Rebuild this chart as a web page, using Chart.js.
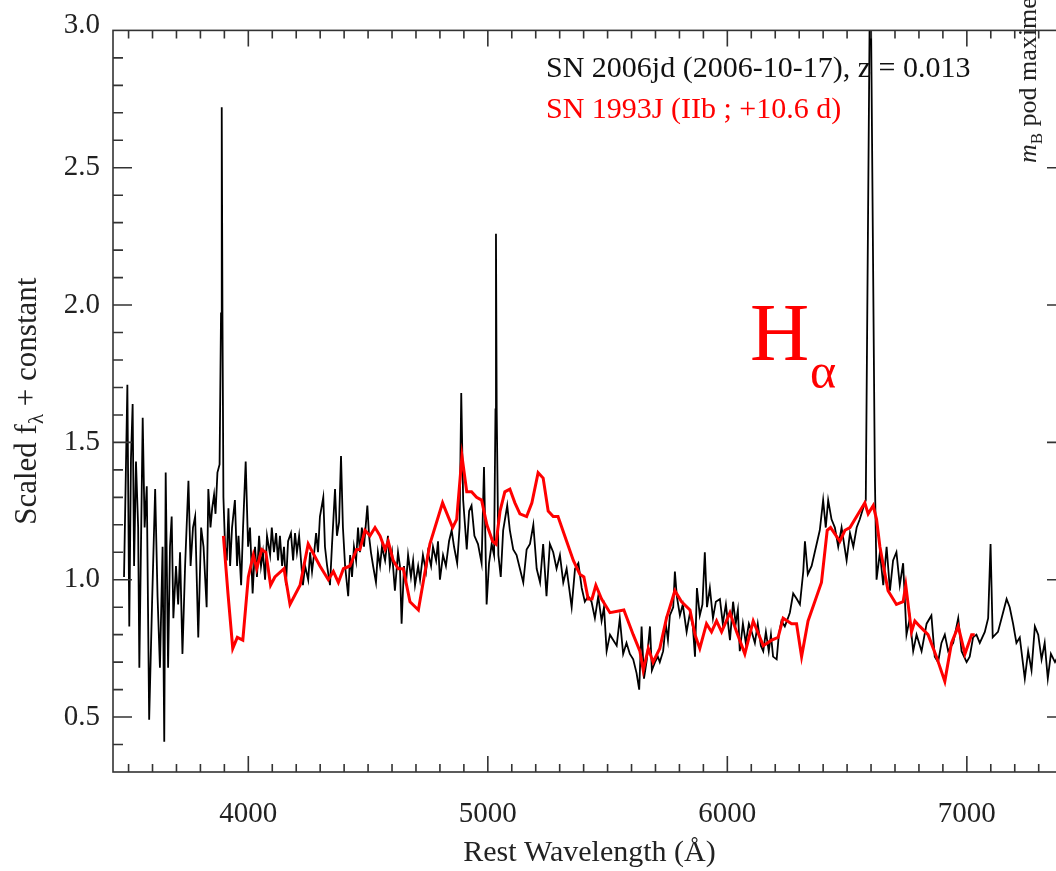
<!DOCTYPE html>
<html>
<head>
<meta charset="utf-8">
<title>SN 2006jd spectrum</title>
<style>
  html, body { margin: 0; padding: 0; overflow: hidden; background: #fff; }
  canvas { display: block; }
</style>
<script src="https://cdn.jsdelivr.net/npm/chart.js@4.4.1/dist/chart.umd.min.js"></script>
</head>
<body>
<canvas id="spec" width="1070" height="871"></canvas>
<script>
// SN 2006jd (black) – rest wavelength (Å) and scaled flux
const jdWave = [
  3481, 3495, 3503, 3510, 3517, 3523, 3531, 3540, 3545, 3559, 3567, 3576, 3586, 3598, 3611, 3621,
  3631, 3642, 3649, 3655, 3665, 3673, 3680, 3687, 3698, 3707, 3715, 3725, 3736, 3750, 3759, 3769,
  3778, 3791, 3803, 3813, 3826, 3833, 3842, 3849, 3857, 3863, 3871, 3880, 3886, 3889, 3892, 3896,
  3903, 3910, 3917, 3924, 3932, 3944, 3953, 3959, 3970, 3978, 3989, 3999, 4007, 4018, 4028, 4036,
  4045, 4053, 4061, 4070, 4078, 4091, 4098, 4107, 4116, 4124, 4132, 4141, 4149, 4157, 4166, 4178,
  4187, 4195, 4203, 4212, 4220, 4228, 4237, 4250, 4258, 4266, 4274, 4283, 4291, 4299, 4313, 4320,
  4329, 4341, 4349, 4362, 4370, 4379, 4387, 4395, 4404, 4417, 4425, 4433, 4441, 4450, 4458, 4466,
  4474, 4483, 4497, 4504, 4512, 4521, 4533, 4541, 4550, 4558, 4571, 4583, 4591, 4600, 4612, 4625,
  4633, 4640, 4650, 4658, 4667, 4679, 4688, 4696, 4709, 4717, 4729, 4742, 4750, 4763, 4771, 4784,
  4792, 4800, 4813, 4825, 4838, 4849, 4859, 4872, 4882, 4889, 4897, 4912, 4922, 4932, 4944, 4959,
  4974, 4984, 4995, 5005, 5016, 5026, 5032, 5034, 5037, 5044, 5054, 5064, 5081, 5092, 5106, 5120,
  5134, 5148, 5162, 5176, 5190, 5204, 5218, 5231, 5245, 5259, 5273, 5287, 5301, 5315, 5329, 5350,
  5364, 5378, 5392, 5405, 5419, 5433, 5447, 5461, 5475, 5485, 5496, 5510, 5524, 5538, 5551, 5565,
  5579, 5593, 5607, 5621, 5632, 5642, 5652, 5664, 5677, 5685, 5698, 5710, 5718, 5732, 5743, 5752,
  5760, 5774, 5781, 5789, 5802, 5814, 5830, 5844, 5856, 5865, 5873, 5885, 5896, 5906, 5915, 5927,
  5940, 5952, 5969, 5981, 5994, 6011, 6024, 6035, 6044, 6052, 6065, 6077, 6090, 6102, 6115, 6127,
  6140, 6150, 6161, 6173, 6182, 6191, 6206, 6215, 6226, 6240, 6253, 6261, 6275, 6290, 6303, 6317,
  6324, 6336, 6352, 6365, 6386, 6400, 6411, 6421, 6435, 6449, 6463, 6477, 6498, 6512, 6526, 6540,
  6553, 6567, 6578, 6597, 6616, 6623, 6637, 6651, 6665, 6679, 6692, 6706, 6720, 6734, 6748, 6762,
  6776, 6790, 6811, 6832, 6852, 6866, 6880, 6894, 6908, 6922, 6943, 6964, 6978, 6999, 7012, 7026,
  7040, 7054, 7075, 7089, 7099, 7108, 7130, 7151, 7166, 7179, 7193, 7207, 7221, 7242, 7256, 7270,
  7284, 7298, 7312, 7325, 7338, 7351, 7368, 7380, 7395, 7414
];
const jdFlux = [
  1.01, 1.71, 0.83, 1.44, 1.64, 1.05, 1.43, 1.19, 0.68, 1.59, 1.19, 1.34, 0.49, 0.91, 1.33, 0.94,
  0.68, 1.12, 0.41, 1.39, 0.68, 1.12, 1.23, 0.86, 1.05, 0.91, 1.10, 0.73, 1.05, 1.36, 1.05, 1.19,
  1.23, 0.79, 1.19, 1.12, 0.90, 1.33, 1.19, 1.26, 1.31, 1.24, 1.39, 1.42, 1.97, 2.72, 1.97, 1.30,
  1.12, 1.07, 1.26, 1.05, 1.19, 1.29, 1.05, 1.16, 0.98, 1.19, 1.43, 1.12, 1.19, 0.95, 1.12, 1.01,
  1.16, 1.05, 1.10, 1.00, 1.16, 1.09, 1.19, 1.10, 1.17, 1.07, 1.16, 1.05, 1.12, 0.98, 1.14, 1.17,
  1.07, 1.17, 1.10, 1.16, 1.07, 0.98, 1.05, 1.00, 1.10, 1.03, 1.09, 1.17, 1.10, 1.23, 1.30, 1.12,
  1.05, 0.98, 1.12, 1.33, 1.16, 1.21, 1.45, 1.19, 1.05, 0.94, 1.09, 1.01, 1.12, 1.07, 1.19, 1.10,
  1.19, 1.12, 1.27, 1.16, 1.10, 1.05, 0.99, 1.10, 1.05, 1.12, 1.07, 1.16, 1.05, 1.10, 0.96, 1.10,
  1.05, 0.84, 1.05, 0.98, 1.09, 1.01, 1.07, 0.98, 1.05, 1.00, 1.09, 1.03, 1.10, 1.05, 1.12, 1.07,
  1.14, 1.00, 1.09, 1.05, 1.14, 1.18, 1.12, 1.06, 1.19, 1.68, 1.29, 1.11, 1.25, 1.27, 1.16, 1.13,
  1.06, 1.41, 0.91, 1.06, 1.13, 1.09, 1.62, 2.26, 1.62, 1.09, 1.01, 1.18, 1.27, 1.18, 1.11, 1.09,
  1.04, 0.99, 1.11, 1.13, 1.20, 1.04, 0.99, 1.13, 0.94, 1.13, 1.10, 1.04, 1.09, 0.99, 1.04, 0.90,
  1.04, 1.06, 0.97, 0.92, 0.94, 0.92, 0.86, 0.94, 0.85, 0.90, 0.74, 0.80, 0.78, 0.76, 0.86, 0.73,
  0.77, 0.73, 0.71, 0.66, 0.60, 0.83, 0.64, 0.71, 0.83, 0.67, 0.70, 0.72, 0.70, 0.74, 0.84, 0.78,
  0.87, 0.90, 1.03, 0.94, 0.87, 0.91, 0.81, 0.88, 0.83, 0.72, 0.97, 0.87, 0.91, 1.10, 0.90, 0.97,
  0.86, 0.92, 0.93, 0.84, 0.91, 0.78, 0.92, 0.84, 0.89, 0.74, 0.84, 0.77, 0.84, 0.81, 0.77, 0.84,
  0.76, 0.74, 0.81, 0.74, 0.80, 0.72, 0.71, 0.80, 0.85, 0.83, 0.86, 0.88, 0.95, 0.93, 0.91, 1.03,
  1.14, 1.02, 1.05, 1.10, 1.18, 1.29, 1.19, 1.29, 1.22, 1.19, 1.12, 1.19, 1.07, 1.17, 1.12, 1.19,
  1.22, 1.26, 1.29, 3.35, 1.37, 1.00, 1.10, 0.98, 1.12, 0.96, 1.07, 1.10, 0.98, 1.06, 0.80, 0.86,
  0.74, 0.80, 0.74, 0.84, 0.87, 0.72, 0.70, 0.77, 0.80, 0.74, 0.77, 0.86, 0.74, 0.70, 0.72, 0.79,
  0.80, 0.77, 0.81, 0.86, 1.13, 0.79, 0.81, 0.88, 0.93, 0.90, 0.84, 0.77, 0.79, 0.64, 0.74, 0.67,
  0.83, 0.80, 0.71, 0.77, 0.64, 0.73, 0.70, 0.72, 0.68, 0.70
];

// SN 1993J template (red)
const sn93Wave = [
  3896, 3915, 3935, 3954, 3977, 4000, 4021, 4035, 4056, 4073, 4093, 4111, 4149, 4174, 4216, 4250,
  4299, 4334, 4355, 4376, 4397, 4424, 4452, 4466, 4487, 4508, 4529, 4550, 4571, 4584, 4605, 4626,
  4647, 4675, 4710, 4738, 4758, 4811, 4853, 4870, 4892, 4912, 4932, 4953, 4974, 4996, 5020, 5034,
  5051, 5071, 5092, 5113, 5134, 5162, 5184, 5210, 5231, 5252, 5273, 5293, 5329, 5357, 5384, 5401,
  5419, 5435, 5451, 5475, 5510, 5568, 5607, 5635, 5649, 5670, 5690, 5718, 5746, 5781, 5809, 5844,
  5865, 5885, 5913, 5934, 5955, 5976, 6011, 6039, 6073, 6108, 6150, 6185, 6212, 6233, 6268, 6289,
  6310, 6337, 6365, 6393, 6417, 6431, 6470, 6491, 6512, 6574, 6588, 6609, 6623, 6637, 6671, 6706,
  6734, 6745, 6769, 6783, 6804, 6838, 6873, 6908, 6936, 6964, 6992, 7020, 7033
];
const sn93Flux = [
  1.16, 0.95, 0.75, 0.79, 0.78, 1.01, 1.09, 1.04, 1.11, 1.10, 0.98, 1.01, 1.04, 0.91, 0.98, 1.13,
  1.05, 1.00, 1.03, 0.99, 1.04, 1.05, 1.11, 1.11, 1.18, 1.16, 1.19, 1.16, 1.11, 1.14, 1.07, 1.04,
  1.04, 0.92, 0.89, 1.03, 1.13, 1.28, 1.19, 1.22, 1.45, 1.32, 1.32, 1.30, 1.29, 1.20, 1.14, 1.13,
  1.25, 1.32, 1.33, 1.28, 1.24, 1.23, 1.28, 1.39, 1.37, 1.25, 1.23, 1.23, 1.14, 1.07, 1.02, 1.01,
  0.93, 0.93, 0.98, 0.93, 0.88, 0.89, 0.80, 0.74, 0.67, 0.75, 0.70, 0.75, 0.86, 0.96, 0.92, 0.89,
  0.80, 0.75, 0.84, 0.81, 0.85, 0.81, 0.88, 0.81, 0.73, 0.85, 0.76, 0.78, 0.79, 0.86, 0.84, 0.84,
  0.72, 0.85, 0.92, 0.99, 1.18, 1.19, 1.14, 1.18, 1.19, 1.28, 1.24, 1.27, 1.22, 1.12, 0.96, 0.91,
  0.92, 0.98, 0.81, 0.85, 0.83, 0.80, 0.72, 0.63, 0.77, 0.83, 0.73, 0.80, 0.80
];

// axes
const xTickValues = [4000, 5000, 6000, 7000];
const yTickValues = [0.5, 1.0, 1.5, 2.0, 2.5, 3.0];
const xRange = [3435, 7414];
const yRange = [0.3, 3.0];

const SERIF = "'Liberation Serif', 'DejaVu Serif', serif";
const INK = '#222';

// frame with inward ticks on all four sides (IDL style)
const framePlugin = {
  id: 'frame',
  afterDraw(chart) {
    const { ctx, chartArea: a, scales: { x, y } } = chart;
    ctx.save();
    ctx.strokeStyle = '#333';
    ctx.lineWidth = 1.6;
    ctx.strokeRect(a.left, a.top, a.right - a.left, a.bottom - a.top);
    ctx.beginPath();
    for (let w = 3500; w < xRange[1]; w += 100) {
      const px = x.getPixelForValue(w);
      const len = w % 1000 === 0 ? 16 : 8;
      ctx.moveTo(px, a.bottom); ctx.lineTo(px, a.bottom - len);
      ctx.moveTo(px, a.top); ctx.lineTo(px, a.top + len);
    }
    for (let i = 4; i < 30; i++) {
      const py = y.getPixelForValue(i / 10);
      const len = i % 5 === 0 ? 19 : 10;
      ctx.moveTo(a.left, py); ctx.lineTo(a.left + len, py);
      ctx.moveTo(a.right, py); ctx.lineTo(a.right - len, py);
    }
    ctx.stroke();
    ctx.restore();
  }
};

// annotations: legend texts, H-alpha, y title, top tick label, neighbour caption
const textPlugin = {
  id: 'texts',
  afterDraw(chart) {
    const { ctx, chartArea: a } = chart;
    ctx.save();
    ctx.textBaseline = 'alphabetic';

    // legend
    ctx.font = `30px ${SERIF}`;
    ctx.fillStyle = '#111';
    ctx.textAlign = 'left';
    ctx.fillText('SN 2006jd (2006-10-17), z = 0.013', 546, 77);
    ctx.fillStyle = '#ff0000';
    ctx.fillText('SN 1993J (IIb ; +10.6 d)', 546, 118);

    // H alpha
    ctx.font = `82px ${SERIF}`;
    ctx.fillText('H', 750, 360);
    ctx.font = `50px ${SERIF}`;
    ctx.fillText('α', 810, 388);

    // top y label, nudged down like the original
    ctx.fillStyle = INK;
    ctx.font = `29px ${SERIF}`;
    ctx.textAlign = 'right';
    ctx.fillText('3.0', 100, 33);

    // y title with subscript lambda
    ctx.save();
    ctx.translate(36, (a.top + a.bottom) / 2);
    ctx.rotate(-Math.PI / 2);
    ctx.textAlign = 'left';
    const big = `31px ${SERIF}`, small = `21px ${SERIF}`;
    ctx.font = big;
    const w1 = ctx.measureText('Scaled f').width;
    const w3 = ctx.measureText(' + constant').width;
    ctx.font = small;
    const w2 = ctx.measureText('λ').width;
    let cx = -(w1 + w2 + w3) / 2;
    ctx.font = big; ctx.fillText('Scaled f', cx, 0); cx += w1;
    ctx.font = small; ctx.fillText('λ', cx, 7); cx += w2;
    ctx.font = big; ctx.fillText(' + constant', cx, 0);
    ctx.restore();

    // caption of the neighbouring panel, cut by the page edge
    ctx.save();
    ctx.translate(1036, 163);
    ctx.rotate(-Math.PI / 2);
    ctx.textAlign = 'left';
    ctx.font = `italic 26px ${SERIF}`;
    ctx.fillText('m', 0, 0);
    let off = ctx.measureText('m').width;
    ctx.font = `17px ${SERIF}`;
    ctx.fillText('B', off, 6);
    off += ctx.measureText('B').width;
    ctx.font = `26px ${SERIF}`;
    ctx.fillText(' pod maximem', off, 0);
    ctx.restore();

    ctx.restore();
  }
};

const toPoints = (xs, ys) => xs.map((w, i) => ({ x: w, y: ys[i] }));

new Chart(document.getElementById('spec'), {
  type: 'line',
  data: {
    datasets: [
      {
        label: 'SN 1993J (IIb ; +10.6 d)',
        data: toPoints(sn93Wave, sn93Flux),
        borderColor: '#ff0000',
        borderWidth: 3,
        pointRadius: 0,
        tension: 0,
        order: 0
      },
      {
        label: 'SN 2006jd (2006-10-17), z = 0.013',
        data: toPoints(jdWave, jdFlux),
        borderColor: '#000',
        borderWidth: 1.8,
        pointRadius: 0,
        tension: 0,
        order: 1
      }
    ]
  },
  options: {
    responsive: false,
    animation: false,
    devicePixelRatio: 1,
    layout: { padding: { top: 11, right: 4, left: 0, bottom: 0 } },
    plugins: { legend: { display: false }, tooltip: { enabled: false } },
    scales: {
      x: {
        type: 'linear',
        min: xRange[0],
        max: xRange[1],
        afterBuildTicks: s => { s.ticks = xTickValues.map(v => ({ value: v })); },
        afterFit: s => { s.height = 99; },
        grid: { display: false, drawTicks: false },
        border: { display: false },
        ticks: {
          font: { family: SERIF, size: 29 },
          color: INK,
          padding: 25,
          maxRotation: 0,
          autoSkip: false,
          callback: v => String(v)
        },
        title: {
          display: true,
          text: 'Rest Wavelength (Å)',
          font: { family: SERIF, size: 30 },
          color: INK,
          padding: { top: 0, bottom: 0 }
        }
      },
      y: {
        type: 'linear',
        min: yRange[0],
        max: yRange[1],
        afterBuildTicks: s => { s.ticks = yTickValues.map(v => ({ value: v })); },
        afterFit: s => { s.width = 113; },
        grid: { display: false, drawTicks: false },
        border: { display: false },
        ticks: {
          font: { family: SERIF, size: 29 },
          color: INK,
          padding: 13,
          autoSkip: false,
          callback: v => (v === 3 ? '' : v.toFixed(1))
        }
      }
    }
  },
  plugins: [framePlugin, textPlugin]
});
</script>
</body>
</html>
